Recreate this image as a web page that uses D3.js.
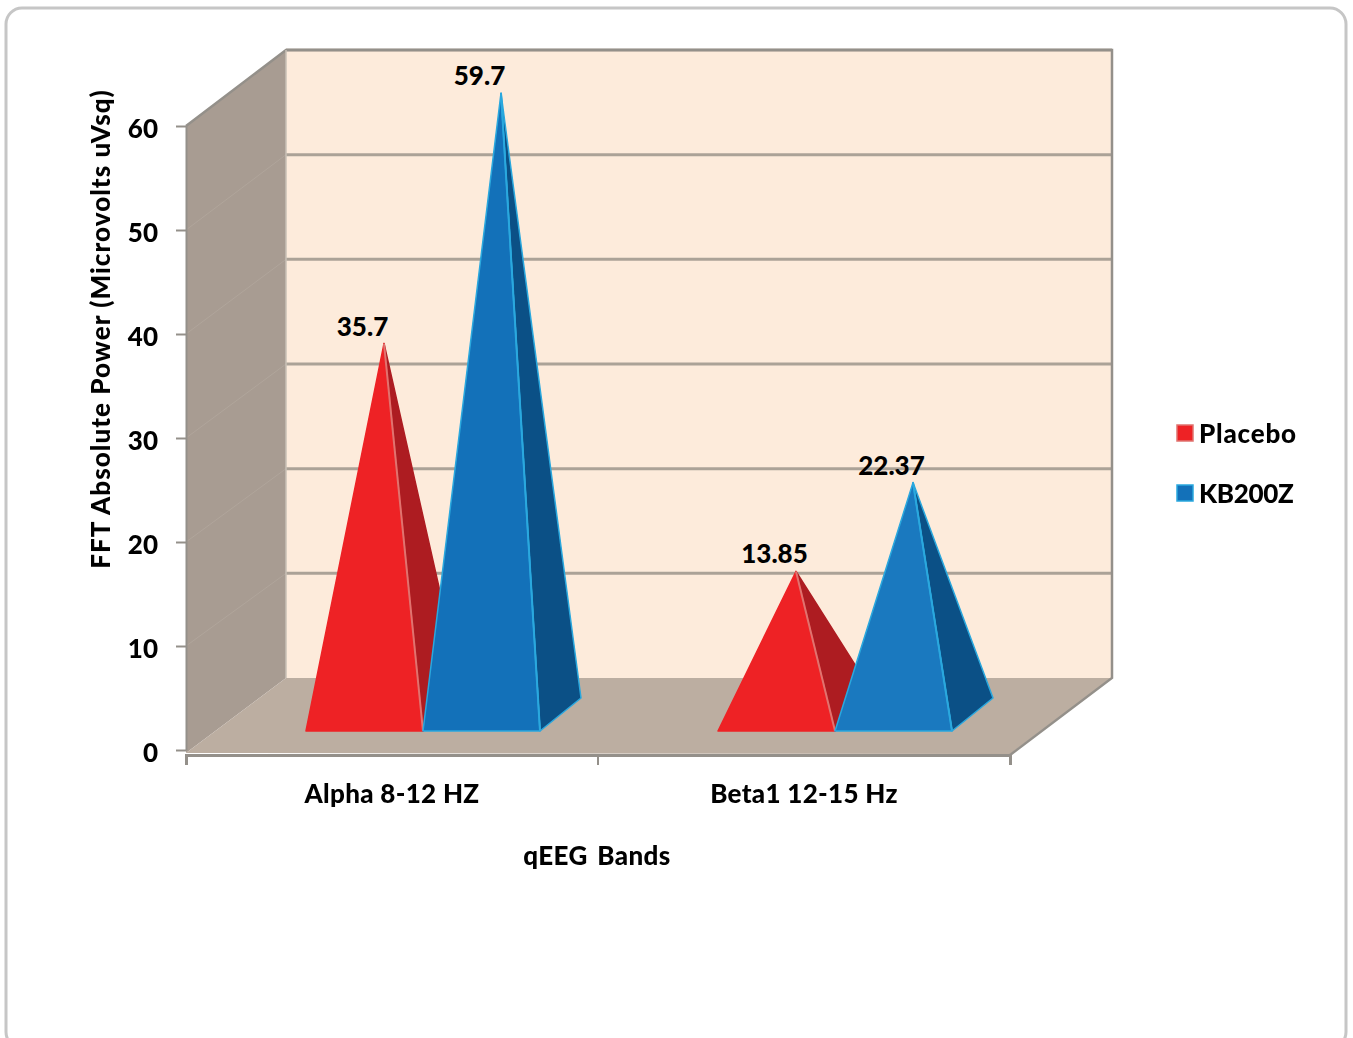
<!DOCTYPE html>
<html>
<head>
<meta charset="utf-8">
<script src="https://cdn.jsdelivr.net/npm/d3@7"></script>
<style>
  html, body { margin: 0; padding: 0; background: #fff; overflow: hidden; }
  svg { display: block; filter: blur(0.6px); }
  text { font-family: Lato, "Open Sans", sans-serif; font-weight: 900; fill: #000; font-size: 26px; }
</style>
</head>
<body>
<svg id="chart" width="1353" height="1038"></svg>
<script>
const categories = ["Alpha 8-12 HZ", "Beta1 12-15 Hz"];
const seriesNames = ["Placebo", "KB200Z"];
const placeboValues = [35.7, 13.85];
const kb200zValues = [59.7, 22.37];
const valueLabels = { Placebo: ["35.7", "13.85"], KB200Z: ["59.7", "22.37"] };
const yTicks = [0, 10, 20, 30, 40, 50, 60];

const svg = d3.select("#chart");
const colors = {
  Placebo: { front: ["#ee2225", "#ee2225"], side: "#ad1c21", edge: "#e0736f" },
  KB200Z: { front: ["#1371b9", "#1a79bf"], side: "#0b5086", edge: "#2aa8de" }
};
const valuesFor = { Placebo: placeboValues, KB200Z: kb200zValues };

// three planes of the 3d box: front edge, pyramid centres, back wall
const yFront = d3.scaleLinear().domain([0, 60]).range([750, 126]);
const yMid = d3.scaleLinear().domain([0, 60]).range([716, 90]);
const yBack = d3.scaleLinear().domain([0, 60]).range([678, 50]);
const x0 = d3.scaleBand().domain(categories).range([186, 1010]);
const x1 = d3.scaleBand().domain(seriesNames).range([-86, 148]);

const backX = 286, backRight = 1112, axisY = 755;
const baseY = 731, baseDx = 41, baseDy = -33;

const poly = (pts) => "M" + pts.map((p) => p.join(",")).join("L") + "Z";

// outer rounded frame, runs off the bottom of the picture
svg.append("rect")
  .attr("x", 6).attr("y", 8)
  .attr("width", 1340).attr("height", 1040)
  .attr("rx", 16)
  .attr("fill", "#fff").attr("stroke", "#c6c6c6").attr("stroke-width", 3);

// back wall
svg.append("rect")
  .attr("x", backX).attr("y", yBack(60))
  .attr("width", backRight - backX).attr("height", yBack(0) - yBack(60))
  .attr("fill", "#fdebdb");

// side wall
svg.append("path")
  .attr("d", poly([[186, yFront(60)], [backX, yBack(60)], [backX, yBack(0)], [186, yFront(0) + 3]]))
  .attr("fill", "#a89c92");

// floor
svg.append("path")
  .attr("d", poly([[186, axisY - 2], [backX, yBack(0)], [backRight, yBack(0)], [1010, axisY - 1]]))
  .attr("fill", "#bcaea1");

// gridlines
svg.append("g").selectAll("line").data(yTicks.slice(1)).join("line")
  .attr("x1", backX).attr("x2", backRight)
  .attr("y1", (d) => yBack(d)).attr("y2", (d) => yBack(d))
  .attr("stroke", "#aba297").attr("stroke-width", 3);
svg.append("g").selectAll("line").data(yTicks.slice(1, -1)).join("line")
  .attr("x1", 186).attr("x2", backX)
  .attr("y1", (d) => yFront(d)).attr("y2", (d) => yBack(d))
  .attr("stroke", "#b0a59b").attr("stroke-width", 1);

// wall edges
svg.append("path")
  .attr("d", `M186,${yFront(60)}L${backX},${yBack(60)}L${backRight},${yBack(60)}L${backRight},${yBack(0)}L1010,${axisY}`)
  .attr("fill", "none").attr("stroke", "#94908a").attr("stroke-width", 2.5);
svg.append("line")
  .attr("x1", backX).attr("x2", backX).attr("y1", yBack(60)).attr("y2", yBack(0))
  .attr("stroke", "#c9c0b6").attr("stroke-width", 1.5);

// pyramids
categories.forEach((cat, i) => {
  seriesNames.forEach((name) => {
    const c = colors[name];
    const v = valuesFor[name][i];
    const xl = x0(cat) + x0.bandwidth() / 2 + x1(name);
    const xr = xl + x1.bandwidth();
    const apex = [(xl + xr + baseDx) / 2 - 1, yMid(v)];
    const isBlue = name === "KB200Z";
    const g = svg.append("g");
    g.append("path")
      .attr("d", poly([[xr, baseY], [xr + baseDx, baseY + baseDy], apex]))
      .attr("fill", c.side).attr("stroke", isBlue ? c.edge : c.side).attr("stroke-width", 1.5)
      .attr("stroke-linejoin", "round");
    g.append("path")
      .attr("d", poly([[xl, baseY], [xr, baseY], apex]))
      .attr("fill", c.front[i]).attr("stroke", isBlue ? c.edge : c.front[i]).attr("stroke-width", 1.5)
      .attr("stroke-linejoin", "round");
    g.append("line")
      .attr("x1", xr).attr("y1", baseY).attr("x2", apex[0]).attr("y2", apex[1])
      .attr("stroke", c.edge).attr("stroke-width", 2);
  });
});

// data labels
categories.forEach((cat, i) => {
  seriesNames.forEach((name) => {
    const xl = x0(cat) + x0.bandwidth() / 2 + x1(name);
    svg.append("text")
      .attr("x", xl + x1.bandwidth() / 2 - 2)
      .attr("y", yMid(valuesFor[name][i]) - 8)
      .attr("text-anchor", "middle")
      .text(valueLabels[name][i]);
  });
});

// axes
const yAxis = svg.append("g")
  .attr("transform", "translate(186,0)")
  .call(d3.axisLeft(yFront).tickValues(yTicks).tickSizeInner(10).tickSizeOuter(0).tickPadding(18));
yAxis.select(".domain").attr("stroke", "#94908a").attr("stroke-width", 2);
yAxis.selectAll(".tick line").attr("x2", -10).attr("stroke", "#94908a").attr("stroke-width", 2);
yAxis.selectAll(".tick text").attr("x", -28).attr("dy", "0.46em").style("font-size", "26px");

const xAxis = svg.append("g")
  .attr("transform", `translate(0,${axisY})`)
  .call(d3.axisBottom(x0).tickSizeInner(0).tickSizeOuter(10).tickPadding(30));
xAxis.select(".domain").attr("stroke", "#94908a").attr("stroke-width", 3);
xAxis.selectAll(".tick text").style("font-size", "26px").style("letter-spacing", "0.3px");
svg.append("line")
  .attr("x1", x0(categories[1])).attr("x2", x0(categories[1]))
  .attr("y1", axisY).attr("y2", axisY + 10)
  .attr("stroke", "#94908a").attr("stroke-width", 2);

// axis titles
svg.append("text")
  .attr("transform", "translate(110,329) rotate(-90)")
  .attr("text-anchor", "middle")
  .style("letter-spacing", "1.05px")
  .text("FFT Absolute Power (Microvolts uVsq)");
svg.append("text")
  .attr("x", 597).attr("y", 865)
  .attr("text-anchor", "middle")
  .style("letter-spacing", "0.4px")
  .style("word-spacing", "3px")
  .text("qEEG Bands");

// legend
const legend = svg.append("g").selectAll("g").data(seriesNames).join("g")
  .attr("transform", (d, i) => `translate(1176,${424 + i * 60})`);
legend.append("rect")
  .attr("x", 1).attr("y", 1)
  .attr("width", 16).attr("height", 16)
  .attr("fill", (d) => colors[d].front[0])
  .attr("stroke", (d) => colors[d].edge)
  .attr("stroke-width", 1.5);
legend.append("text")
  .attr("x", 23).attr("y", 19)
  .style("letter-spacing", (d) => d === "Placebo" ? "0.8px" : "-0.3px")
  .text((d) => d);
</script>
</body>
</html>
